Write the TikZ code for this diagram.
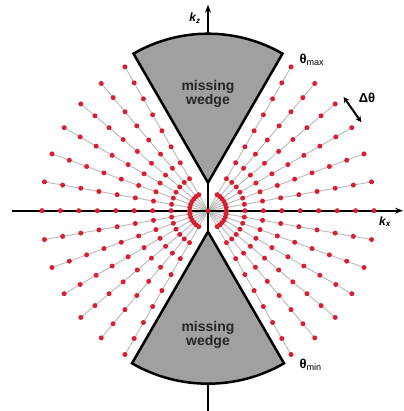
\documentclass[tikz,border=0pt]{standalone}
\usepackage{fontspec}
\setmainfont{Liberation Sans}
\usetikzlibrary{arrows.meta}

\definecolor{dotred}{RGB}{218,30,48}
\definecolor{wedgegray}{RGB}{160,160,160}

\begin{document}
\begin{tikzpicture}[x=1pt, y=1pt,
    axis/.style={-{Stealth[length=8pt, width=6pt]}, line width=2pt, draw=black},
    ray/.style={line width=0.9pt, draw=black!28},
    dot/.style={circle, fill=dotred, inner sep=0pt, minimum size=5pt},
    wedge/.style={draw=black, line width=2.5pt, fill=wedgegray, line join=miter},
    wedgetext/.style={font=\bfseries\fontsize{14}{13.5}\selectfont, text=black!85, align=center},
    label/.style={font=\bfseries\fontsize{13}{14}\selectfont},
    turn/.style={{Stealth[length=6pt, width=6pt]}-{Stealth[length=6pt, width=6pt]}, line width=2pt},
]

\useasboundingbox (-208,-200.3) rectangle (195,210.7);

\coordinate (o) at (0,0);

% Rays of the tilt series
\foreach \s in {0,180}
  \foreach \a in {-60,-50,...,60} {
    \coordinate (r\s-\a) at ({\a+\s}:166);
    \draw[ray] (o) -- (r\s-\a);
  }

% Axes
\coordinate (kxleft) at (-196,0);
\coordinate (kxright) at (195,0);
\coordinate (kzlow) at (0,-200.3);
\coordinate (kztop) at (0,206);
\draw[axis] (kxleft) -- (kxright);
\draw[axis] (kzlow) -- (kztop);

% Missing wedges
\coordinate (uptip) at (0,28);
\coordinate (lowtip) at (0,-21);
\draw[wedge] (uptip) -- ++(120:149) arc[start angle=120, end angle=60, radius=149] -- cycle;
\draw[wedge] (lowtip) -- ++(240:152) arc[start angle=240, end angle=300, radius=152] -- cycle;

% Sampled points
\foreach \s in {0,180}
  \foreach \a in {-60,-50,...,60}
    \foreach \k in {1,...,9}
      \node[dot] (d\s-\a-\k) at ({\a+\s}:{18.45*\k}) {};
\node[dot] (d0) at (o) {};

% Labels
\node[wedgetext] (wtop) at (0,116.7) {missing\\wedge};
\node[wedgetext] (wbot) at (0,-124.3) {missing\\wedge};
\node[label, anchor=west] (thmax) at (88,150.7) {θ{\mdseries\textsubscript{max}}};
\node[label, anchor=west] (thmin) at (88,-154.3) {θ{\mdseries\textsubscript{min}}};
\node[font=\bfseries\itshape\fontsize{12}{12}\selectfont] (kx) at (177,-11) {k\textsubscript{x}};
\node[font=\bfseries\itshape\fontsize{12}{12}\selectfont] (kz) at (-13,192.7) {k\textsubscript{z}};

% Angular step
\coordinate (da) at (40:177);
\coordinate (db) at (30:177);
\draw[turn] (da) -- (db);
\node[label] (dth) at (159,112.7) {Δθ};

\end{tikzpicture}
\end{document}
